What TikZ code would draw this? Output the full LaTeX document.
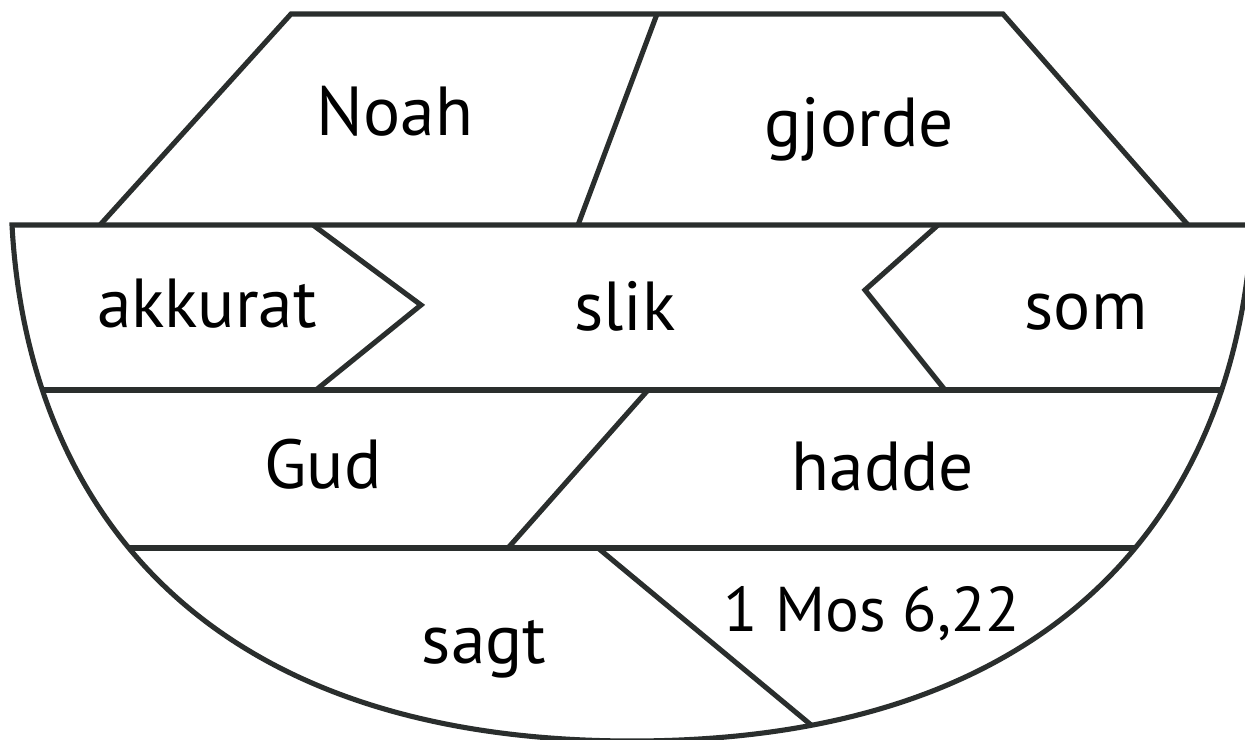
\documentclass[tikz,border=0pt]{standalone}
\usepackage{fontspec}
\setmainfont{PT Sans}
\definecolor{ln}{HTML}{2A2E2D}
\begin{document}
\begin{tikzpicture}[x=0.02cm,y=-0.02cm,
  edge/.style={draw=ln,line width=2.9pt,line join=miter},
  word/.style={anchor=base,font=\fontsize{39.5}{42}\selectfont,inner sep=0pt},
  refword/.style={anchor=base,font=\fontsize{36}{38}\selectfont,inner sep=0pt}]
\useasboundingbox (0,0) rectangle (1245,740);
\clip (0,0) rectangle (1245,740);
% cabin
\coordinate (cbl) at (100,225);
\coordinate (ctl) at (291,14);
\coordinate (ctr) at (1003,14);
\coordinate (cbr) at (1188,225);
\coordinate (dt) at (657,14);
\coordinate (db) at (578,225);
\draw[edge] (cbl) -- (ctl) -- (ctr) -- (cbr);
\draw[edge] (dt) -- (db);
% hull
\coordinate (hl) at (12,225);
\coordinate (hr) at (1252,225);
\begin{scope}
\clip (hl) .. controls (26,485) and (182,741) .. (632,741) .. controls (1082,741) and (1238,485) .. (hr) -- cycle;
\draw[edge] (0,390) -- (1260,390);
\draw[edge] (0,548) -- (1260,548);
\draw[edge] (313,225) -- (421,305) -- (316,390);
\draw[edge] (938,225) -- (865,290) -- (945,390);
\draw[edge] (648,390) -- (508,548);
\draw[edge] (598,548) -- (834,744);
\end{scope}
\draw[edge] (hl) .. controls (26,485) and (182,741) .. (632,741) .. controls (1082,741) and (1238,485) .. (hr) -- cycle;
% words
\node[word] (noah) at (395,136) {Noah};
\node[word] (gjorde) at (859,147) {gjorde};
\node[word] (akkurat) at (207,327) {akkurat};
\node[word] (slik) at (625,330) {slik};
\node[word] (som) at (1086,329) {som};
\node[word] (gud) at (323,488) {Gud};
\node[word] (hadde) at (883,490) {hadde};
\node[word] (sagt) at (484,663) {sagt};
\node[refword] (ref) at (872,631) {1 Mos 6,22};
\end{tikzpicture}
\end{document}
